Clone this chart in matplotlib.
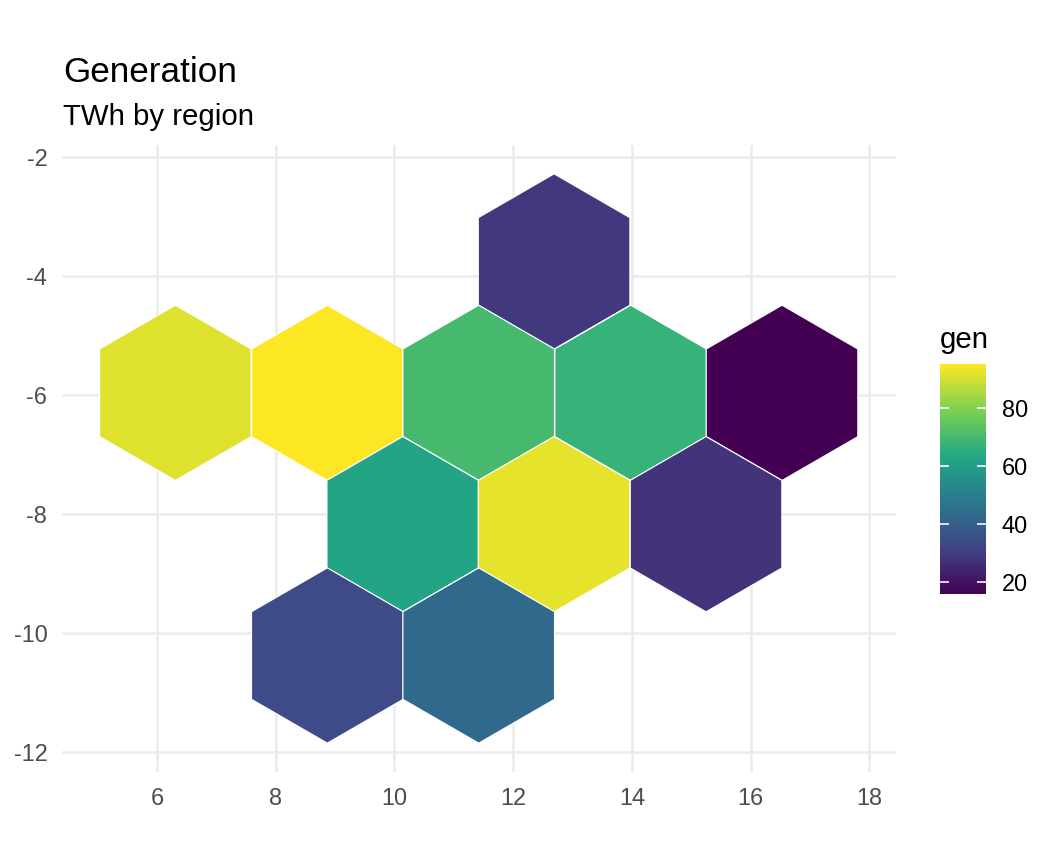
import numpy as np
import matplotlib
matplotlib.use("Agg")
import matplotlib.pyplot as plt
from matplotlib.patches import RegularPolygon
from matplotlib.colors import LinearSegmentedColormap, Normalize
from matplotlib.cm import ScalarMappable

plt.rcParams['font.family'] = ['Liberation Sans', 'DejaVu Sans']
plt.rcParams['axes.unicode_minus'] = False

# hex centres and generation values
hex_x = [12.69, 6.31, 8.87, 11.42, 13.98, 16.53, 10.14, 12.69, 15.25, 8.87, 11.42]
hex_y = [-3.75, -5.96, -5.96, -5.96, -5.96, -5.96, -8.17, -8.17, -8.17, -10.38, -10.38]
gen = [29, 91, 95, 70, 67, 16, 62, 92, 28, 34, 43]

x_ticks = [6, 8, 10, 12, 14, 16, 18]
y_ticks = [-2, -4, -6, -8, -10, -12]
bar_ticks = [20, 40, 60, 80]

hex_r = 1.475

# ggplot's viridis gradient (6 stops)
cmap = LinearSegmentedColormap.from_list(
    'vir6', ['#440154', '#414487', '#2A788E', '#22A884', '#7AD151', '#FDE725'])
norm = Normalize(vmin=min(gen), vmax=max(gen))

fig = plt.figure(figsize=(5.5, 4.5), dpi=192)
ax = fig.add_axes([62/1056, 1-772/864, 834/1056, 627/864])

for x, y, v in zip(hex_x, hex_y, gen):
    ax.add_patch(RegularPolygon((x, y), 6, radius=hex_r, orientation=0,
                                facecolor=cmap(norm(v)), edgecolor='white',
                                linewidth=0.45, zorder=2))

ax.set_xlim(4.40, 18.45)
ax.set_ylim(-12.34, -1.79)
ax.set_xticks(x_ticks)
ax.set_yticks(y_ticks)
ax.grid(True, color='#EBEBEB', linewidth=0.95, zorder=0)
ax.set_axisbelow(True)
for s in ax.spines.values():
    s.set_visible(False)
ax.tick_params(length=0, pad=5.5, labelsize=8.8, labelcolor='#4D4D4D')

fig.text(63/1056, 1-82/864, 'Generation', fontsize=13.2, va='baseline', ha='left')
fig.text(63/1056, 1-125/864, 'TWh by region', fontsize=11, va='baseline', ha='left')

# colour bar
cax = fig.add_axes([940/1056, 1-594/864, 46/1056, 230/864])
sm = ScalarMappable(norm=norm, cmap=cmap)
cb = fig.colorbar(sm, cax=cax, ticks=bar_ticks)
cb.outline.set_visible(False)
cax.tick_params(direction='in', length=3.4, width=0.6, color='white',
                left=True, right=True, labelsize=8.8, pad=6)
fig.text(940/1056, 1-348/864, 'gen', fontsize=11, va='baseline', ha='left')

fig.savefig('out.png', dpi=192, facecolor='white')
